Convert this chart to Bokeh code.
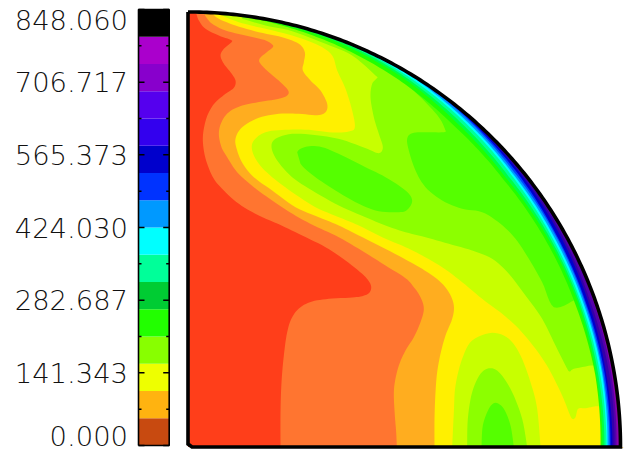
import numpy as np
from bokeh.plotting import figure
from bokeh.models import Range1d
from bokeh.embed import file_html
from bokeh.resources import INLINE
from bokeh.core.properties import value

# ---- colour bar data
level_max = 848.060
n_bands = 16
bar_colors = ["#C84A10", "#FFB310", "#EEFF00", "#88FF00", "#22FF00", "#00CC33", "#00FF99", "#00FFFF",
              "#0099FF", "#0033FF", "#0000CC", "#3300EE", "#5500EE", "#8800CC", "#AA00CC", "#000000"]
tick_values = [0.0, 141.343, 282.687, 424.030, 565.373, 706.717, 848.060]
tick_labels = ["0.000", "141.343", "282.687", "424.030", "565.373", "706.717", "848.060"]
minor_values = [70.672, 212.015, 353.358, 494.702, 636.045, 777.388]
label_offsets = [-10, 0, 0, 0, 0, 0, 10]

# ---- contour lines (plot units, y downward), as sections
A, B, C, D = (555, 0), (1215, 0), (555, 675), (1215, 675)

def seg(o, pts):
    return [(x + o[0], y + o[1]) for x, y in pts]

orange_line = seg(A, [(32,38),(40,60),(60,85),(100,105),(135,118),(138,125),(115,145),(105,165),(115,190),(135,215),(150,240),(145,262),(120,280),(90,305),(70,335),(58,370),(52,410),(55,450),(65,490),(85,535),(115,570),(160,610),(220,645)]) \
    + seg(C, [(288,0),(350,30),(420,65),(480,105),(530,145),(552,170),(557,188),(550,203),(530,212),(500,216),(430,220),(380,228),(345,245),(320,275),(305,320),(295,390),(288,470),(285,560),(285,665)])
amber_line = seg(A, [(55,38),(62,50),(80,70),(120,90),(180,105),(235,118),(258,130),(262,140),(240,158),(222,175),(225,190),(250,215),(285,245),(308,270),(305,285),(280,295),(230,303),(170,315),(130,335),(108,365),(100,400),(108,440),(125,470),(155,515),(205,560),(260,600),(321,640)]) \
    + seg(C, [(385,0),(450,30),(520,70),(600,120)]) \
    + seg(D, [(0,158),(25,185),(45,215),(55,250),(45,290),(25,335),(0,375)]) \
    + seg(C, [(640,420),(628,470),(625,510),(628,570),(632,620),(634,665)])
yellow_line = seg(A, [(80,38),(100,55),(150,75),(220,95),(290,110),(340,130),(358,155),(355,185),(352,210),(375,240),(405,270),(425,310),(420,335),(395,344),(340,340),(280,340),(220,352),(170,380),(150,415),(155,450),(172,490),(205,530),(260,570),(330,620),(400,650)]) \
    + seg(C, [(460,0),(520,30),(590,65)]) \
    + seg(D, [(0,102),(50,130),(100,165),(130,200),(145,240),(140,280),(120,330),(105,385),(95,440),(90,500),(87,580),(87,665)])
lime_line = seg(A, [(105,38),(120,50),(170,68),(240,85),(320,105),(400,135),(440,165),(455,210),(480,265),(500,330),(508,380),(490,393),(440,396),(370,388),(300,388),(240,395),(205,420),(200,450),(220,490),(260,530),(320,575),(390,620),(460,650)]) \
    + seg(C, [(520,0),(590,35)]) \
    + seg(D, [(0,65),(50,90),(110,125),(170,170),(230,220),(290,265),(340,310),(390,370),(430,430),(470,510),(490,560),(500,580),(510,575),(518,550),(540,548),(570,542)])
lime_lobe = seg(D, [(140,665),(145,560),(150,480),(170,400),(200,345),(260,322),(310,340),(345,390),(375,470),(395,550),(405,665)])
chart_line = seg(A, [(170,55),(240,75),(320,92),(420,130),(500,165),(570,225),(575,232),(560,250),(555,290),(565,350),(580,400),(592,440),(580,458),(545,445),(470,418),(400,405),(320,400),(270,415),(258,440),(275,480),(320,530),(380,570),(460,615),(540,650)]) \
    + seg(C, [(600,0)]) \
    + seg(D, [(0,20),(60,35),(130,55),(200,75),(260,100),(310,145),(360,210),(410,280),(450,360),(480,420),(492,438),(505,430),(555,420)])
chart_lobe = seg(D, [(185,665),(187,580),(200,500),(225,445),(255,428),(285,445),(320,500),(350,580),(365,665)])
green_line = seg(A, [(250,62),(350,90),(450,125),(560,170)]) \
    + seg(B, [(0,235),(30,275),(60,305),(100,350),(118,385),(115,395),(60,395),(20,398),(5,415),(10,450),(30,510),(60,560),(110,600),(170,625),(230,635),(285,670)]) \
    + seg(D, [(330,40),(370,100),(410,170),(445,245),(505,225)])
green_island = seg(A, [(335,455),(365,438),(410,440),(470,465),(540,500),(600,530)]) \
    + seg(B, [(0,570),(20,600),(5,628)]) \
    + seg(A, [(640,635),(580,632),(520,610),(450,570),(390,530),(345,490)])
green_lobe = seg(D, [(228,665),(232,600),(250,550),(270,532),(295,550),(315,600),(325,665)])

# ---- bands along the rim: depth inside the rim at each angle from the top
rim_angles = [0, 10, 20, 30, 40, 50, 60, 70, 80, 90]
rim_colors = ["#22FF00", "#00FF44", "#00FF99", "#00FFFF", "#0099FF", "#0044FF", "#0000CC", "#3300AA", "#5500AA", "#8800AA"]
rim_depths = [
    [0, 2, 6, 11, 17, 20, 20, 20, 19, 20],
    [0, 1, 3, 7, 13, 17, 17, 17, 18, 18],
    [0, 0, 1, 5, 10, 14, 15, 15.5, 16, 16],
    [0, 0, 0, 3, 7, 11, 13, 14, 14, 14],
    [0, 0, 0, 1, 5, 9, 11, 12, 12, 13],
    [0, 0, 0, 0, 3, 7, 9, 10.5, 11, 11],
    [0, 0, 0, 0, 2, 5, 8, 9.5, 9.5, 10],
    [0, 0, 0, 0, 1, 3, 5, 7, 8, 8],
    [0, 0, 0, 0, 0, 1, 3, 5, 5, 6],
    [0, 0, 0, 0, 0, 0, 0, 2, 3, 4],
]
field_colors = {"red": "#FF3E1A", "orange": "#FF7530", "amber": "#FFAD1F", "yellow": "#FFF000",
                "lime": "#C8FF00", "chart": "#8CFF00", "green": "#55FF00"}

W, H = 625, 450
U = 3  # plot units per pixel
cx, cy, rx, ry = 562.5, 1339.5, 1297.5, 1305.0
FAR, TOP = 1868, 12           # fills stop inside the canvas, under the white mask
MASK_FAR, MASK_TOP = 2200, -200

px_per_level = 436 / level_max
lvl_at = lambda py: (445 - py) / px_per_level

p = figure(width=W, height=H, output_backend="svg", toolbar_location=None,
           x_range=Range1d(0, W * U), y_range=Range1d(H * U, 0),
           min_border=0, outline_line_color=None, x_axis_location=None, y_axis_location=None,
           background_fill_color="white", border_fill_color="white")
p.grid.visible = False
p.extra_y_ranges = {"level": Range1d(lvl_at(H), lvl_at(0))}

th = np.radians(np.arange(0, 90.5, 0.5))
def arc(depth=0.0):
    return cx + (rx - depth * U) * np.sin(th), cy - (ry - depth * U) * np.cos(th)

def smooth(line, n=6):
    """Round the drawn contour through its read points (Catmull-Rom path)."""
    P = np.array(line, dtype=float)
    Q = np.vstack([P[0], P, P[-1]])
    out = []
    for i in range(1, len(Q) - 2):
        for t in np.linspace(0, 1, n, endpoint=False):
            out.append(0.5 * (2 * Q[i] + (Q[i + 1] - Q[i - 1]) * t
                              + (2 * Q[i - 1] - 5 * Q[i] + 4 * Q[i + 1] - Q[i + 2]) * t * t
                              + (3 * Q[i] - Q[i - 1] - 3 * Q[i + 1] + Q[i + 2]) * t ** 3))
    out.append(P[-1])
    return np.array(out)

def fill_right(line, color):
    S = smooth(line)
    xs = list(S[:, 0]) + [FAR, FAR, line[0][0]]
    ys = list(S[:, 1]) + [line[-1][1], TOP, TOP]
    p.patch(xs, ys, fill_color=color, line_color=None)

def fill_lobe(line, color):
    S = smooth(line)
    p.patch(list(S[:, 0]), list(S[:, 1]), fill_color=color, line_color=None)

def fill_loop(line, color):
    S = smooth(line[-2:] + line + line[:2])[12:-12]
    p.patch(list(S[:, 0]), list(S[:, 1]), fill_color=color, line_color=None)

ax, ay = arc()
p.patch(list(ax) + [cx], list(ay) + [cy], fill_color=field_colors["red"], line_color=None)
fill_right(orange_line, field_colors["orange"])
fill_right(amber_line, field_colors["amber"])
fill_right(yellow_line, field_colors["yellow"])
fill_right(lime_line, field_colors["lime"])
fill_lobe(lime_lobe, field_colors["lime"])
fill_right(chart_line, field_colors["chart"])
fill_lobe(chart_lobe, field_colors["chart"])
fill_right(green_line, field_colors["green"])
fill_loop(green_island, field_colors["green"])
fill_lobe(green_lobe, field_colors["green"])

for col, dep in zip(rim_colors, rim_depths):
    d = np.interp(np.degrees(th), rim_angles, dep)
    ix, iy = arc(d)
    p.patch(list(ix) + [FAR, FAR, cx], list(iy) + [cy, TOP, TOP], fill_color=col, line_color=None)

# white outside the quarter disc
p.patch(list(ax) + [MASK_FAR, MASK_FAR, cx], list(ay) + [cy, MASK_TOP, MASK_TOP], fill_color="white", line_color=None)

# outline
ox = [cx, cx] + [cx + 12, ] + [ax[-1]] + list(ax[::-1]) + [cx]
oy = [cy - ry, cy - 9] + [cy, ] + [cy] + list(ay[::-1]) + [cy - ry]
p.line(ox, oy, line_color="black", line_width=3.6, line_join="miter")

# colour bar
bar_l, bar_r = 138 * U, 168.7 * U
levels = [level_max * i / n_bands for i in range(n_bands + 1)]
p.quad(left=bar_l, right=bar_r, bottom=levels[:-1], top=levels[1:], fill_color=bar_colors,
       line_color=None, y_range_name="level")
p.multi_line([[bar_l, bar_r, bar_r, bar_l, bar_l]], [[0, 0, level_max, level_max, 0]],
             line_color="black", line_width=1.6, y_range_name="level")
p.segment(x0=[bar_l] * 7, x1=[bar_l + 6 * U] * 7, y0=tick_values, y1=tick_values, line_color="black", line_width=1.5, y_range_name="level")
p.segment(x0=[bar_r] * 7, x1=[bar_r - 6 * U] * 7, y0=tick_values, y1=tick_values, line_color="black", line_width=1.5, y_range_name="level")
p.segment(x0=[bar_l] * 6, x1=[bar_l + 3 * U] * 6, y0=minor_values, y1=minor_values, line_color="black", line_width=1.5, y_range_name="level")
p.segment(x0=[bar_r] * 6, x1=[bar_r - 3 * U] * 6, y0=minor_values, y1=minor_values, line_color="black", line_width=1.5, y_range_name="level")
p.text(x=[127.5 * U] * 7, y=tick_values, text=tick_labels, text_align="right", text_baseline="middle",
       y_offset=label_offsets, text_font=value("'DejaVu Sans Light', 'Lato Light', 'Roboto Light', 'Open Sans Light', 'DejaVu Sans'"),
       text_font_size="27.4px", text_color="#111111", y_range_name="level")

open("out.html", "w").write(file_html(p, INLINE))
